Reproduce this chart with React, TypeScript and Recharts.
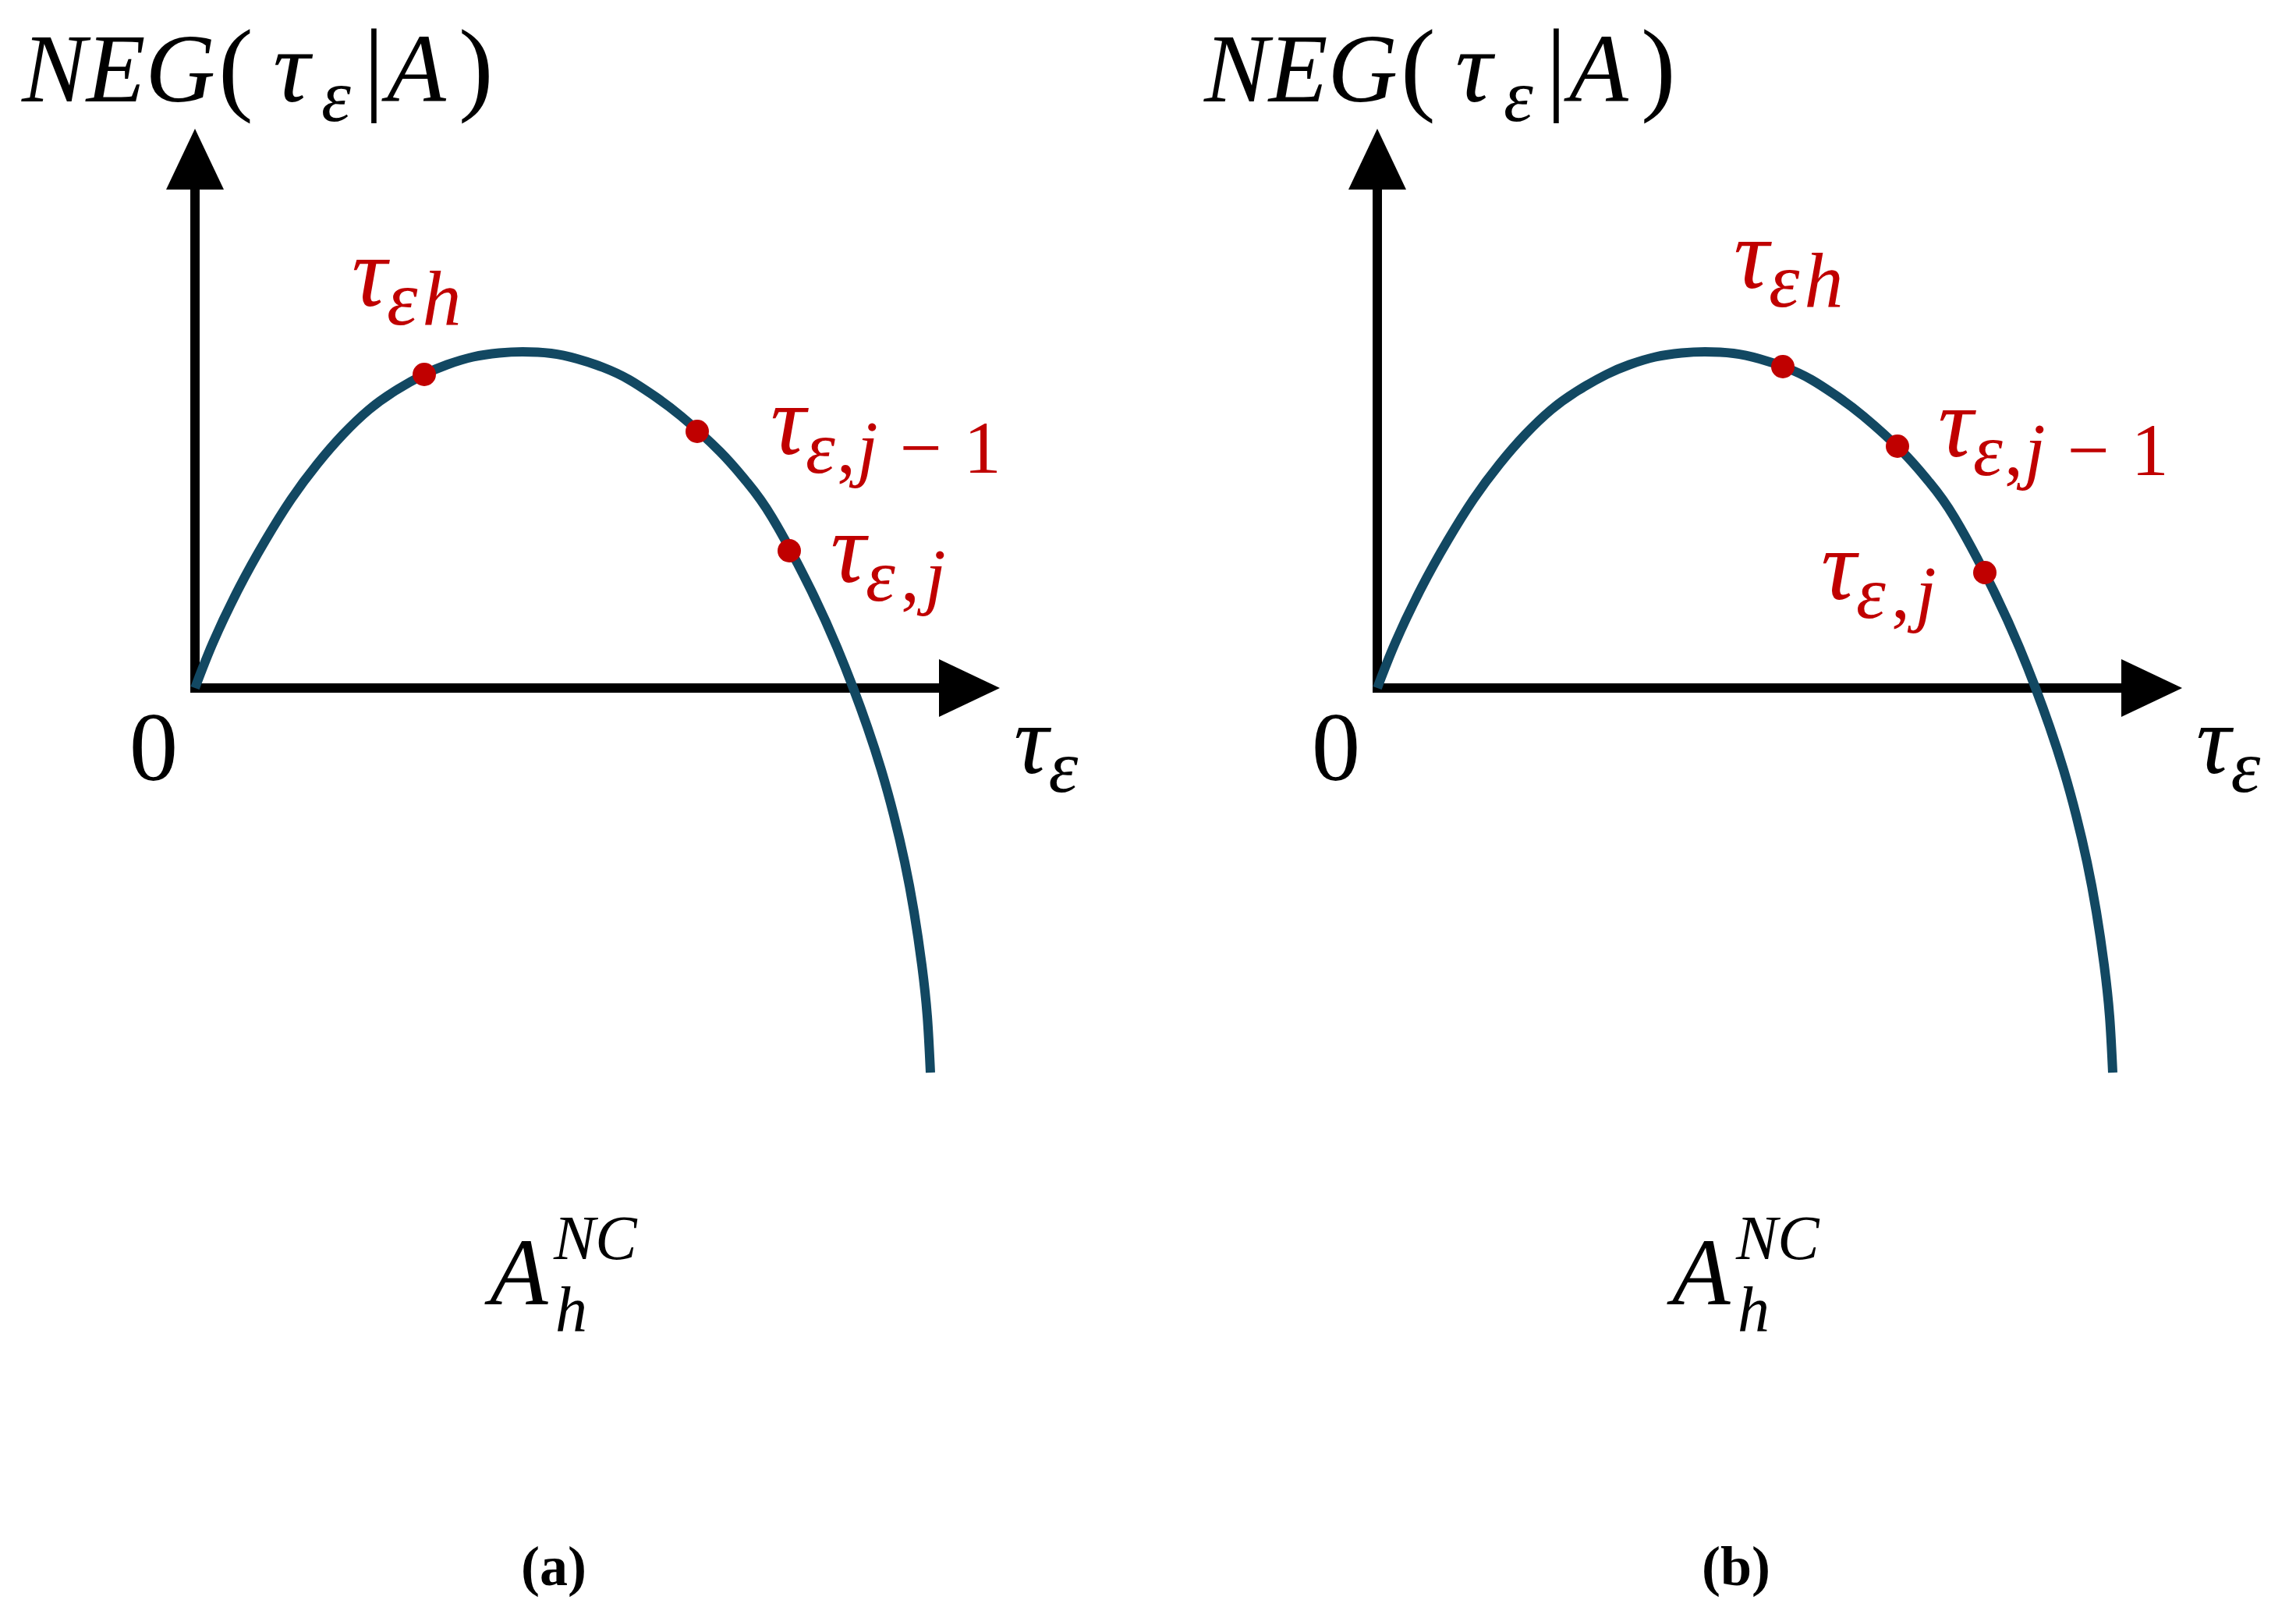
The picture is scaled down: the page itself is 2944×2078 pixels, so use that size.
import { ComposedChart, Line, Scatter, XAxis, YAxis, ReferenceLine, ReferenceDot } from 'recharts';

// curve NEG(tau | A), same shape in both panels (x = tau, y = NEG)
const CURVE_X = [
  0, 0.233, 0.567, 0.9, 1.233, 1.567, 1.9, 2.233, 2.567, 2.94, 3.233, 3.567, 3.9, 4.2, 4.567, 4.9, 5.233,
  5.567, 5.9, 6.233, 6.733, 7.067, 7.4, 7.9, 8.233, 8.44, 8.62, 8.8, 8.96, 9.1, 9.22, 9.32, 9.39, 9.43,
];
const CURVE_Y = [
  0, 0.587, 1.287, 1.887, 2.42, 2.87, 3.253, 3.57, 3.81, 4.02, 4.145, 4.245, 4.295, 4.31, 4.29, 4.22, 4.11,
  3.953, 3.737, 3.485, 3.03, 2.653, 2.187, 1.253, 0.52, 0, -0.495, -1.05, -1.63, -2.23, -2.87, -3.55, -4.21, -4.93,
];

// marked points: tau_eh, tau_e,j-1, tau_e,j
const DOT_KEYS = ['h', 'j-1', 'j'];
const PANEL_A_DOT_X = [2.94, 6.44, 7.62];
const PANEL_A_DOT_Y = [4.02, 3.29, 1.76];
const PANEL_B_DOT_X = [5.2, 6.67, 7.79];
const PANEL_B_DOT_Y = [4.12, 3.1, 1.48];

const PANEL_CAPTIONS = ['(a)', '(b)'];

const X_DOMAIN: [number, number] = [0, 10.5];
const Y_DOMAIN: [number, number] = [-5, 7.2];
const AXIS_X_END = 10.32;
const AXIS_Y_END = 7.17;
const ARROW_LEN = 78;
const ARROW_HALF = 37;

const FONT = '"Liberation Serif", "DejaVu Serif", serif';
const RED = '#C00000';
const CURVE_COLOR = '#124862';

const PANEL_W = 1472;
const PANEL_H = 1450;
const MARGIN = { top: 162, right: 172, bottom: 68, left: 250 };
const PANEL_SHIFT = 1516;

// label offsets (px) from each dot to the start of its label
const LABEL_OFFSETS_A = [[-93, -88], [94, 29], [53, 40]];
const LABEL_OFFSETS_B = [[-63, -101], [52, 13], [-210, 34]];

const curveData = CURVE_X.map((x, i) => ({ x, y: CURVE_Y[i] }));

const SUB = 96;

function Subscript({ k }: { k: string }) {
  if (k === 'h')
    return (
      <tspan fontSize={100} dy={24} letterSpacing={6}>
        εh
      </tspan>
    );
  if (k === 'j-1')
    return (
      <tspan fontSize={SUB} dy={24} letterSpacing={2}>
        ε<tspan fontStyle="normal">,</tspan>j<tspan fontStyle="normal">{' − 1'}</tspan>
      </tspan>
    );
  return (
    <tspan fontSize={SUB} dy={24} letterSpacing={7}>
      ε<tspan fontStyle="normal">,</tspan>j
    </tspan>
  );
}

function makeDotShape(offsets: number[][]) {
  return (props: any) => {
    const { cx, cy, payload } = props;
    const idx = DOT_KEYS.indexOf(payload.key);
    const [dx, dy] = offsets[idx];
    return (
      <g>
        <circle cx={cx} cy={cy} r={15} fill={RED} />
        <text x={cx + dx} y={cy + dy} fill={RED} fontFamily={FONT} fontSize={126} fontStyle="italic">
          τ<Subscript k={payload.key} />
        </text>
      </g>
    );
  };
}

const RightArrow = (p: any) => (
  <polygon
    points={`${p.cx},${p.cy} ${p.cx - ARROW_LEN},${p.cy - ARROW_HALF} ${p.cx - ARROW_LEN},${p.cy + ARROW_HALF}`}
    fill="#000"
  />
);
const UpArrow = (p: any) => (
  <polygon
    points={`${p.cx},${p.cy} ${p.cx - ARROW_HALF},${p.cy + ARROW_LEN} ${p.cx + ARROW_HALF},${p.cy + ARROW_LEN}`}
    fill="#000"
  />
);

function Panel({ left, dotX, dotY, offsets }: { left: number; dotX: number[]; dotY: number[]; offsets: number[][] }) {
  const dots = dotX.map((x, i) => ({ x, y: dotY[i], key: DOT_KEYS[i] }));
  return (
    <div style={{ position: 'absolute', left, top: 0 }}>
      <ComposedChart width={PANEL_W} height={PANEL_H} margin={MARGIN}>
        <XAxis type="number" dataKey="x" domain={X_DOMAIN} hide />
        <YAxis type="number" dataKey="y" domain={Y_DOMAIN} hide />
        <ReferenceLine
          segment={[{ x: 0, y: 0 }, { x: AXIS_X_END - 0.7, y: 0 }]}
          stroke="#000"
          strokeWidth={12}
        />
        <ReferenceLine
          segment={[{ x: 0, y: -0.06 }, { x: 0, y: AXIS_Y_END - 0.7 }]}
          stroke="#000"
          strokeWidth={12}
        />
        <ReferenceDot x={AXIS_X_END} y={0} r={1} shape={RightArrow} />
        <ReferenceDot x={0} y={AXIS_Y_END} r={1} shape={UpArrow} />
        <Line
          data={curveData}
          dataKey="y"
          type="natural"
          stroke={CURVE_COLOR}
          strokeWidth={12}
          dot={false}
          isAnimationActive={false}
        />
        <Scatter data={dots} dataKey="y" shape={makeDotShape(offsets)} isAnimationActive={false} />
      </ComposedChart>
    </div>
  );
}

function StaticText({ shift, caption }: { shift: number; caption: string }) {
  const s = shift;
  return (
    <g fontFamily={FONT} fill="#000">
      <text x={28 + s} y={130} fontSize={124} fontStyle="italic">
        NEG
        <tspan x={280 + s} fontStyle="normal" fontSize={134}>(</tspan>
        <tspan x={350 + s} fontSize={132}>τ</tspan>
        <tspan x={412 + s} fontSize={96} dy={25}>ε</tspan>
        <tspan x={466 + s} dy={-25} fontStyle="normal" fontSize={134}>|</tspan>
        <tspan x={496 + s}>A</tspan>
        <tspan x={588 + s} fontStyle="normal" fontSize={134}>)</tspan>
      </text>
      <text x={197 + s} y={1000} fontSize={125} textAnchor="middle">0</text>
      <text x={1300 + s} y={991} fontSize={124} fontStyle="italic">
        τ<tspan fontSize={96} dy={24}>ε</tspan>
      </text>
      <text x={628 + s} y={1672} fontSize={122} fontStyle="italic">
        A<tspan x={710 + s} y={1614} fontSize={80}>NC</tspan>
        <tspan x={712 + s} y={1706} fontSize={82}>h</tspan>
      </text>
      <text x={710 + s} y={2032} fontSize={72} fontWeight="bold" textAnchor="middle">{caption}</text>
    </g>
  );
}

export default function App() {
  return (
    <div style={{ position: 'absolute', left: 0, top: 0, width: 2944, height: 2078, background: '#fff' }}>
      <Panel left={0} dotX={PANEL_A_DOT_X} dotY={PANEL_A_DOT_Y} offsets={LABEL_OFFSETS_A} />
      <Panel left={PANEL_SHIFT} dotX={PANEL_B_DOT_X} dotY={PANEL_B_DOT_Y} offsets={LABEL_OFFSETS_B} />
      <svg width={2944} height={2078} style={{ position: 'absolute', left: 0, top: 0, pointerEvents: 'none' }}>
        <StaticText shift={0} caption={PANEL_CAPTIONS[0]} />
        <StaticText shift={PANEL_SHIFT} caption={PANEL_CAPTIONS[1]} />
      </svg>
    </div>
  );
}
